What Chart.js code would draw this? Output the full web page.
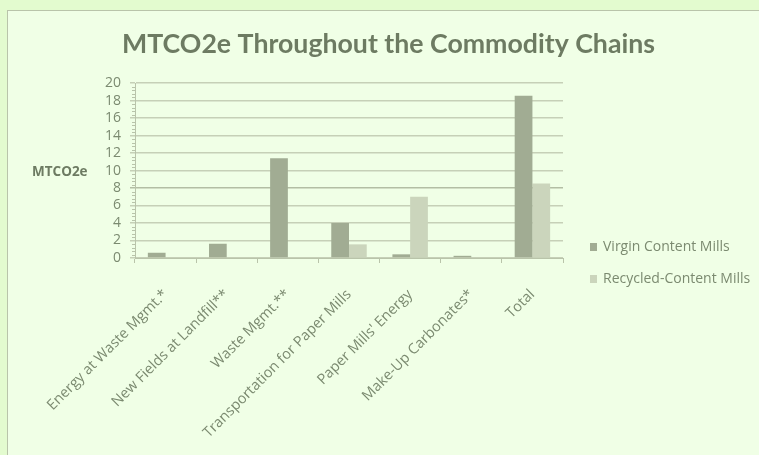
<!DOCTYPE html>
<html><head><meta charset="utf-8">
<script src="https://cdn.jsdelivr.net/npm/chart.js@4"></script>
<style>
html,body{margin:0;padding:0;background:#e3fbcf;width:759px;height:455px;overflow:hidden;}
#box{position:absolute;left:7px;top:10px;width:752px;height:445px;background:#f0ffe6;border-left:1px solid #b9c4aa;border-top:1px solid #b9c4aa;box-sizing:border-box;}
</style></head><body>
<div id="box"><canvas id="c"></canvas></div>
<script>
const categories = ["Energy at Waste Mgmt.*","New Fields at Landfill**","Waste Mgmt.**","Transportation for Paper Mills","Paper Mills' Energy","Make-Up Carbonates*","Total"];
const virginValues = [0.6, 1.63, 11.4, 4.0, 0.42, 0.25, 18.55];
const recycledValues = [0, 0, 0, 1.56, 7.0, 0, 8.53];
const yTicks = [0,2,4,6,8,10,12,14,16,18,20];
const seriesNames = ["Virgin Content Mills","Recycled-Content Mills"];

const textCol = '#7b8a70';
const font = '"Open Sans", Lato, sans-serif';

const extras = {
  id:'extras',
  afterDraw(chart){
    const ctx = chart.ctx, y = chart.scales.y, a = chart.chartArea;
    ctx.save();
    // minor ticks
    ctx.strokeStyle = '#b9c4aa'; ctx.lineWidth = 1;
    for (let i = 0; i < yTicks.length - 1; i++) {
      for (let k = 1; k < 5; k++) {
        const v = yTicks[i] + (yTicks[i+1]-yTicks[i]) * k / 5;
        const p = Math.round(y.getPixelForValue(v)) + 0.5;
        ctx.beginPath(); ctx.moveTo(a.left - 3, p); ctx.lineTo(a.left, p); ctx.stroke();
      }
    }
    // y axis label (horizontal)
    ctx.fillStyle = '#6d7b62';
    ctx.font = 'bold 13.5px ' + font;
    ctx.textAlign = 'left'; ctx.textBaseline = 'middle';
    ctx.fillText('MTCO2e', 24, y.getPixelForValue(9.8));
    // legend
    ctx.font = '14px ' + font;
    chart.data.datasets.forEach((ds, i) => {
      const cy = 236 + i * 32;
      ctx.fillStyle = ds.backgroundColor;
      ctx.fillRect(582, cy - 4, 7, 8);
      ctx.fillStyle = textCol;
      ctx.fillText(ds.label, 595, cy);
    });
    ctx.restore();
  }
};

new Chart(document.getElementById('c'), {
  type:'bar',
  data:{
    labels: categories,
    datasets:[
      {label: seriesNames[0], data: virginValues, backgroundColor:'#a1ac93', borderWidth:0},
      {label: seriesNames[1], data: recycledValues, backgroundColor:'#cbd5bc', borderWidth:0}
    ]
  },
  options:{
    responsive:true, maintainAspectRatio:false, animation:false,
    devicePixelRatio:1,
    layout:{padding:{left:10, right:0, top:0, bottom:0}},
    datasets:{bar:{categoryPercentage:0.58, barPercentage:1}},
    plugins:{
      title:{display:true, text:'MTCO2e Throughout the Commodity Chains', color:'#6d7b62',
        font:{family:'Lato, "Open Sans", sans-serif', size:26.7, weight:'bold', lineHeight:1.2}, padding:{top:17, bottom:23}},
      legend:{display:false},
      tooltip:{enabled:false}
    },
    scales:{
      x:{
        afterFit(s){ s.height = 197; },
        grid:{display:true, drawOnChartArea:false, color:'#b9c4aa', tickLength:5, offset:true},
        border:{color:'#b9c4aa'},
        ticks:{color:textCol, font:{family:font, size:14.5}, maxRotation:45, minRotation:45, padding:23, autoSkip:false}
      },
      y:{
        min:0, max:20,
        afterFit(s){ s.width = 117; },
        afterBuildTicks(s){ s.ticks = yTicks.map(v=>({value:v})); },
        grid:{color: c => c.tick && c.tick.value === 8 ? '#b3bea4' : '#c6d0b7', tickLength:5, lineWidth:1.5},
        border:{color:'#b9c4aa'},
        ticks:{color:textCol, font:{family:font, size:14}, padding:9, autoSkip:false}
      },
      side:{
        type:'linear', position:'right', display:true,
        afterFit(s){ s.width = 196; },
        grid:{display:false, drawTicks:false}, border:{display:false},
        ticks:{display:false}
      }
    }
  },
  plugins:[extras]
});
</script>
</body></html>
